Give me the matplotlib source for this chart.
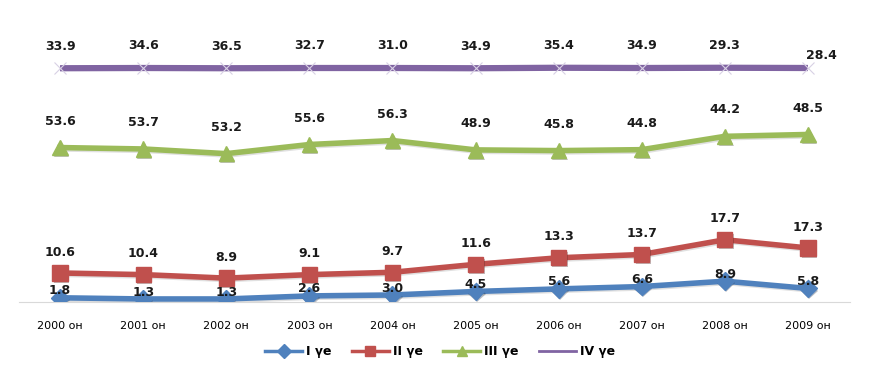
import numpy as np
import matplotlib.pyplot as plt
import matplotlib.patheffects as pe
from matplotlib.lines import Line2D

years = ['2000 он', '2001 он', '2002 он', '2003 он', '2004 он',
         '2005 он', '2006 он', '2007 он', '2008 он', '2009 он']
series_names = ['I үе', 'II үе', 'III үе', 'IV үе']

stage_1 = [1.8, 1.3, 1.3, 2.6, 3.0, 4.5, 5.6, 6.6, 8.9, 5.8]
stage_2 = [10.6, 10.4, 8.9, 9.1, 9.7, 11.6, 13.3, 13.7, 17.7, 17.3]
stage_3 = [53.6, 53.7, 53.2, 55.6, 56.3, 48.9, 45.8, 44.8, 44.2, 48.5]
stage_4 = [33.9, 34.6, 36.5, 32.7, 31.0, 34.9, 35.4, 34.9, 29.3, 28.4]

colors  = ['#4F81BD', '#C0504D', '#9BBB59', '#8064A2']
markers = ['D', 's', '^', 'x']
msizes  = [9, 11, 11, 8]
label_dy = [5, 15, 19, 16]   # points above the point

values = np.array([stage_1, stage_2, stage_3, stage_4])
stacked = np.cumsum(values, axis=0)   # stacked line chart
x = np.arange(len(years))

fig = plt.figure(figsize=(8.76, 3.76), dpi=100)
ax = fig.add_axes([18.5 / 876, 1 - 302 / 376, 831 / 876, 257.4 / 376])

shadow = [pe.SimplePatchShadow(offset=(1, -1.5), alpha=0.3), pe.Normal()]
handles = []

for i in range(4):
    if i == 3:
        ax.plot(x, stacked[i], color=colors[i], lw=4.5, marker='x', ms=9,
                mec='#D8D0E4', mew=0.8, zorder=3, solid_capstyle='butt')
        handles.append(Line2D([], [], color=colors[i], lw=2))
    else:
        ax.plot(x, stacked[i], color=colors[i], lw=4.0, zorder=3,
                path_effects=[pe.SimpleLineShadow(offset=(1, -1), alpha=0.12), pe.Normal()])
        ax.plot(x, stacked[i], ls='none', marker=markers[i], ms=msizes[i],
                mfc=colors[i], mec=colors[i], zorder=4, path_effects=shadow)
        handles.append(Line2D([], [], color=colors[i], lw=2.5, marker=markers[i],
                              ms=7, mfc=colors[i], mec=colors[i]))
    for j in range(len(x)):
        dx, dy = 0, label_dy[i]
        if i == 3 and j == len(x) - 1:
            dx, dy = 10, 9
        ax.annotate(f'{values[i][j]:.1f}', (x[j], stacked[i][j]),
                    xytext=(dx, dy), textcoords='offset points',
                    ha='center', va='center', fontsize=9, fontweight='bold',
                    color='#1a1a1a', zorder=6, annotation_clip=False)

ax.set_xlim(-0.5, 9.5)
ax.set_ylim(0, 110)
ax.set_yticks([])
ax.set_xticks(x)
ax.set_xticklabels(years, fontsize=8)
ax.tick_params(axis='x', length=0, pad=14)
for s in ['top', 'right', 'left']:
    ax.spines[s].set_visible(False)
ax.spines['bottom'].set_color('#D9D9D9')

fig.legend(handles, series_names, loc='center',
           bbox_to_anchor=(440 / 876, 1 - 352 / 376), ncol=4, frameon=False,
           prop={'size': 9, 'weight': 'bold'}, handlelength=3,
           columnspacing=1.6, handletextpad=0.3)

fig.savefig('out.png', dpi=100)
